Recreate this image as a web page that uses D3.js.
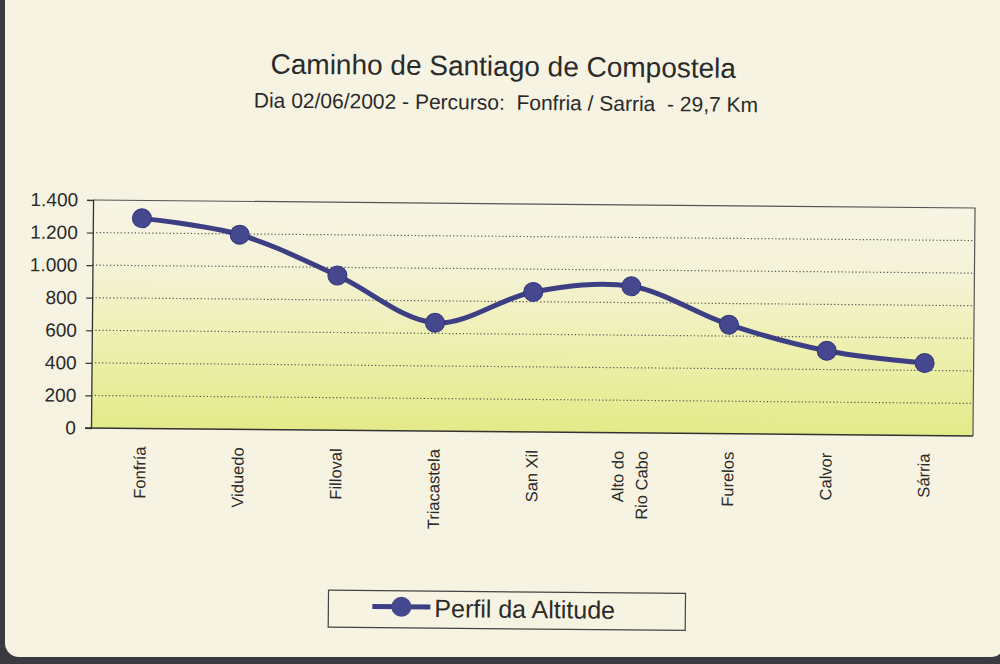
<!DOCTYPE html>
<html><head><meta charset="utf-8">
<script src="https://cdn.jsdelivr.net/npm/d3@7/dist/d3.min.js"></script>
<style>
html,body{margin:0;padding:0;background:#3b3a40;}
svg{display:block;}
text{font-family:Arial,"Liberation Sans",sans-serif;fill:#2a2a2a;}
</style></head>
<body>
<svg id="chart" width="1000" height="664"></svg>
<script>
const categories = ["Fonfría","Viduedo","Filloval","Triacastela","San Xil","Alto do|Rio Cabo","Furelos","Calvor","Sárria"];
const altitudes = [1290, 1195, 950, 665, 860, 900, 670, 515, 445];
const yTicks = [0, 200, 400, 600, 800, 1000, 1200, 1400];
const seriesName = "Perfil da Altitude";
const titleText = "Caminho de Santiago de Compostela";
const subtitleText = "Dia 02/06/2002 - Percurso:  Fonfria / Sarria  - 29,7 Km";

const svg = d3.select("#chart");
// scanned card background
svg.append("rect").attr("x",0).attr("y",0).attr("width",1000).attr("height",664).attr("fill","#3b3a40");
svg.append("rect").attr("x",5).attr("y",-20).attr("width",1000).attr("height",677).attr("rx",14)
  .attr("fill","#f6f3e2");

const L=91, R=973, T=200, B=428;
const g = svg.append("g").attr("transform","rotate(0.52,"+L+","+B+")");

const defs = svg.append("defs");
const grad = defs.append("linearGradient").attr("id","bg").attr("x1",0).attr("y1",0).attr("x2",0).attr("y2",1);
grad.append("stop").attr("offset","0").attr("stop-color","#f7f4e4");
grad.append("stop").attr("offset","0.3").attr("stop-color","#f4f2d6");
grad.append("stop").attr("offset","0.6").attr("stop-color","#eef0b2");
grad.append("stop").attr("offset","1").attr("stop-color","#e3ea88");

const x = d3.scalePoint().domain(categories).range([L,R]).padding(0.5);
const y = d3.scaleLinear().domain([0,1400]).range([B,T]);
const loc = d3.formatLocale({decimal:",",thousands:".",grouping:[3],currency:["",""]});
const fmt = loc.format(",d");

g.append("rect").attr("x",L).attr("y",T).attr("width",R-L).attr("height",B-T).attr("fill","url(#bg)");

// gridlines
g.append("g").selectAll("line").data(yTicks.filter(d=>d>0 && d<1400)).join("line")
  .attr("x1",L).attr("x2",R).attr("y1",d=>y(d)).attr("y2",d=>y(d))
  .attr("stroke","#555").attr("stroke-width",1.2).attr("stroke-dasharray","1.2,2.3");

// frame
g.append("path").attr("d",`M${L},${T}H${R}V${B}`).attr("fill","none").attr("stroke","#555").attr("stroke-width",1.2);

// y axis
const ya = g.append("g").attr("transform",`translate(${L},0)`)
  .call(d3.axisLeft(y).tickValues(yTicks).tickFormat(fmt).tickSize(6).tickPadding(9));
ya.attr("font-family",null);
ya.select(".domain").attr("stroke","#333").attr("stroke-width",1.3);
ya.selectAll(".tick line").attr("stroke","#333").attr("stroke-width",1.2);
ya.selectAll(".tick text").attr("font-size",19).attr("fill","#2a2a2a");

// x axis line
g.append("line").attr("x1",L-6).attr("x2",R).attr("y1",B).attr("y2",B).attr("stroke","#333").attr("stroke-width",1.5);

// x labels
const xl = g.append("g").selectAll("g").data(categories).join("g")
  .attr("transform",d=>`translate(${x(d)},${B+18}) rotate(-90)`);
xl.each(function(d){
  const lines = d.split("|");
  const sel = d3.select(this);
  lines.forEach((ln,i)=>{
    sel.append("text").attr("x",0).attr("y",(i-(lines.length-1)/2)*24)
      .attr("dy","0.35em").attr("text-anchor","end").attr("font-size",16.5).text(ln);
  });
});

// line
const data = categories.map((c,i)=>({c, v:altitudes[i]}));
const line = d3.line().x(d=>x(d.c)).y(d=>y(d.v)).curve(d3.curveCatmullRom.alpha(0.5));
g.append("path").datum(data).attr("d",line).attr("fill","none").attr("stroke","#3d3f84")
  .attr("stroke-width",5).attr("stroke-linejoin","round");
g.append("g").selectAll("circle").data(data).join("circle")
  .attr("cx",d=>x(d.c)).attr("cy",d=>y(d.v)).attr("r",9.5)
  .attr("fill","#45478f").attr("stroke","#35377a").attr("stroke-width",1);

// titles
g.append("text").attr("x",500).attr("y",72).attr("text-anchor","middle").attr("font-size",28)
  .attr("fill","#333").text(titleText);
g.append("text").attr("x",503).attr("y",106).attr("text-anchor","middle").attr("font-size",21)
  .attr("fill","#333").style("white-space","pre").text(subtitleText);

// legend
const lg = g.append("g");
lg.append("rect").attr("x",330).attr("y",588).attr("width",357).attr("height",37)
  .attr("fill","none").attr("stroke","#444").attr("stroke-width",1.2);
lg.append("line").attr("x1",374).attr("x2",432).attr("y1",604).attr("y2",604)
  .attr("stroke","#3d3f84").attr("stroke-width",5);
lg.append("circle").attr("cx",403).attr("cy",604).attr("r",10).attr("fill","#45478f");
lg.append("text").attr("x",436).attr("y",614).attr("font-size",25).attr("fill","#333").text(seriesName);
</script>
</body></html>
